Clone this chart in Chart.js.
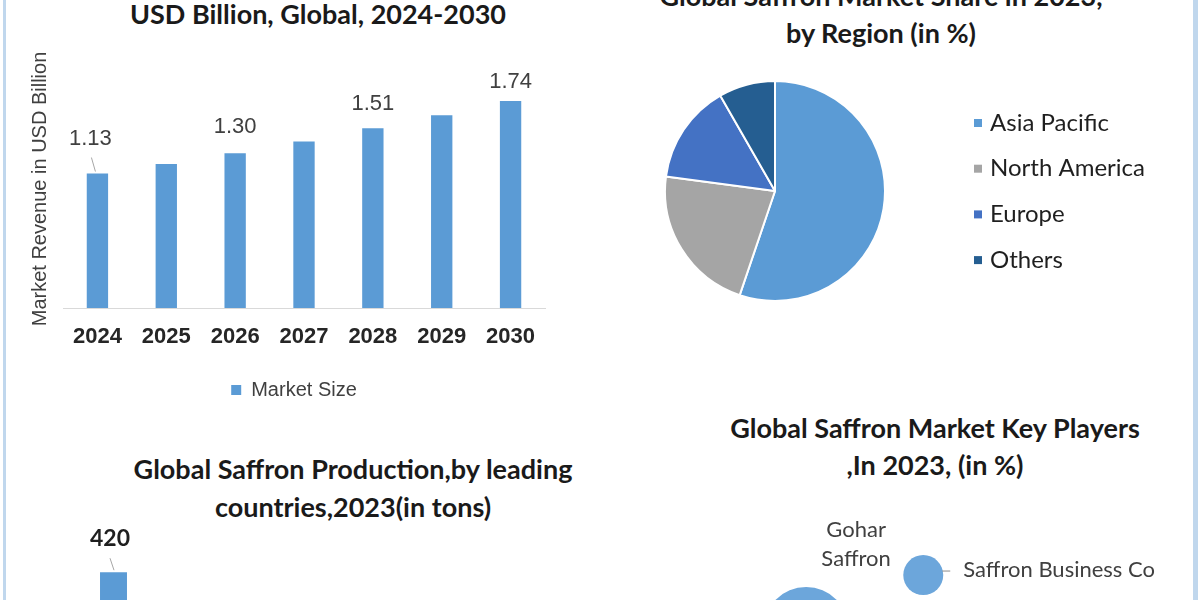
<!DOCTYPE html>
<html><head><meta charset="utf-8">
<script src="https://cdn.jsdelivr.net/npm/chart.js@4"></script>
<style>
html,body{margin:0;padding:0;width:1200px;height:600px;overflow:hidden;background:#fff;}
canvas{position:absolute;display:block;}
.title{position:absolute;transform:translateX(-50%);font-family:Lato,'Open Sans',sans-serif;font-weight:bold;color:#1a1a1a;text-align:center;white-space:nowrap;font-size:27px;line-height:37px;}
.edge{position:absolute;top:0;height:600px;background:#c0d7ed;}
</style></head><body>
<div class="edge" style="left:3px;width:3px"></div>
<div class="edge" style="left:1193px;width:5px"></div>
<div class="title" style="left:318px;top:-5px">USD Billion, Global, 2024-2030</div>
<div class="title" style="left:881px;top:-23px">Global Saffron Market Share in 2023,<br>by Region (in %)</div>
<div class="title" style="left:353px;top:450px;line-height:38px">Global Saffron Production,by leading<br>countries,2023(in tons)</div>
<div class="title" style="left:935px;top:409px">Global Saffron Market Key Players<br>,In 2023, (in %)</div>

<canvas id="c1" width="552" height="410" style="left:18px;top:0px"></canvas>
<canvas id="c2" width="530" height="230" style="left:660px;top:76px"></canvas>
<canvas id="c3" width="101" height="300" style="left:63px;top:520px"></canvas>
<canvas id="c4" width="550" height="220" style="left:640px;top:480px"></canvas>

<script>
// ---- data ----
const marketYears = ['2024', '2025', '2026', '2027', '2028', '2029', '2030'];
const marketSize = [1.13, 1.21, 1.30, 1.40, 1.51, 1.62, 1.74];
const labelledYears = ['2024', '2026', '2028', '2030'];

const regionNames = ['Asia Pacific', 'North America', 'Europe', 'Others'];
const regionShare = [55.2, 21.9, 14.6, 8.3];

const productionCountries = ['Iran'];
const productionTons = [420];

const playerNames = ['Gohar Saffron', 'Saffron Business Co'];
const playerX = [30.2, 51.5];
const playerY = [31.8, 56.8];
const playerBubble = [43, 20];

// ---- plugins ----
const valueLabels = {
  id: 'valueLabels',
  afterDatasetsDraw(chart, args, opts) {
    const ctx = chart.ctx;
    const meta = chart.getDatasetMeta(0);
    const ds = chart.data.datasets[0];
    ctx.save();
    ctx.font = opts.font;
    ctx.fillStyle = opts.color;
    ctx.textAlign = 'center';
    ctx.textBaseline = 'middle';
    meta.data.forEach((el, i) => {
      const lab = chart.data.labels[i];
      if (opts.show && !opts.show.includes(lab)) return;
      const o = (opts.place && opts.place[lab]) || {};
      const dx = o.dx || 0, dy = o.dy !== undefined ? o.dy : -22;
      ctx.fillText(opts.format(ds.data[i]), el.x + dx, el.y + dy);
      if (o.leader) {
        ctx.strokeStyle = '#a6a6a6';
        ctx.lineWidth = 1;
        ctx.beginPath();
        ctx.moveTo(el.x + o.leader[0], el.y + o.leader[1]);
        ctx.lineTo(el.x + o.leader[2], el.y + o.leader[3]);
        ctx.stroke();
      }
    });
    ctx.restore();
  }
};

const sideLegend = {
  id: 'sideLegend',
  afterDraw(chart, args, opts) {
    const ctx = chart.ctx;
    const colors = chart.data.datasets[0].backgroundColor;
    ctx.save();
    ctx.font = opts.font;
    ctx.textBaseline = 'middle';
    ctx.textAlign = 'left';
    chart.data.labels.forEach((lab, i) => {
      const y = opts.y0 + i * opts.step;
      ctx.fillStyle = colors[i];
      ctx.fillRect(opts.x, y - opts.box / 2, opts.box, opts.box);
      ctx.fillStyle = opts.color;
      ctx.fillText(lab, opts.x + opts.box + opts.gap, y);
    });
    ctx.restore();
  }
};

const bubbleLabels = {
  id: 'bubbleLabels',
  afterDatasetsDraw(chart, args, opts) {
    const ctx = chart.ctx;
    const meta = chart.getDatasetMeta(0);
    ctx.save();
    ctx.font = opts.font;
    ctx.fillStyle = opts.color;
    ctx.textBaseline = 'middle';
    meta.data.forEach((el, i) => {
      const p = opts.place[i];
      ctx.textAlign = p.align;
      p.lines.forEach((t, k) => ctx.fillText(t, el.x + p.dx, el.y + p.dy + k * p.lh));
      if (p.leader) {
        ctx.strokeStyle = '#8c8c8c';
        ctx.lineWidth = 1;
        ctx.beginPath();
        ctx.moveTo(el.x + p.leader[0], el.y + p.leader[1]);
        ctx.lineTo(el.x + p.leader[2], el.y + p.leader[3]);
        ctx.stroke();
      }
    });
    ctx.restore();
  }
};

// ---- chart 1: market size ----
new Chart(document.getElementById('c1'), {
  type: 'bar',
  data: {
    labels: marketYears,
    datasets: [{
      label: 'Market Size',
      data: marketSize,
      backgroundColor: '#5B9BD5',
      categoryPercentage: 1,
      barPercentage: 0.31
    }]
  },
  options: {
    responsive: false,
    animation: false,
    layout: { padding: { top: 70, right: 0, bottom: 0, left: 0 } },
    scales: {
      x: {
        grid: { display: false, drawTicks: false },
        border: { display: true, color: '#d9d9d9', width: 1 },
        ticks: { color: '#262626', font: { family: 'Liberation Sans', size: 22, weight: 'bold' }, padding: 16 },
        afterFit(s) { s.height = 62; }
      },
      y: {
        min: 0, max: 2,
        grid: { display: false, drawTicks: false },
        border: { display: false },
        ticks: { display: false },
        title: { display: true, text: 'Market Revenue in USD Billion', color: '#404040',
                 font: { family: 'Liberation Sans', size: 20 }, padding: { top: 10, bottom: 0 } },
        afterFit(s) { s.width = 45; }
      },
      yRight: {
        position: 'right',
        min: 0, max: 2,
        grid: { display: false, drawTicks: false },
        border: { display: false },
        ticks: { display: false },
        afterFit(s) { s.width = 25; }
      }
    },
    plugins: {
      legend: {
        position: 'bottom',
        labels: { boxWidth: 10, boxHeight: 10, color: '#404040', font: { family: 'Liberation Sans', size: 20 }, padding: 10 }
      },
      tooltip: { enabled: false },
      valueLabels: {
        show: labelledYears,
        font: '22px "Liberation Sans"',
        color: '#404040',
        format: v => v.toFixed(2),
        place: {
          '2024': { dx: -7, dy: -35, leader: [-6, -16, -2, -2] },
          '2026': { dx: 0, dy: -26 },
          '2028': { dx: 0, dy: -24 },
          '2030': { dx: 0, dy: -19 }
        }
      }
    }
  },
  plugins: [valueLabels]
});

// ---- chart 2: region share pie ----
new Chart(document.getElementById('c2'), {
  type: 'pie',
  data: {
    labels: regionNames,
    datasets: [{
      data: regionShare,
      backgroundColor: ['#5B9BD5', '#A5A5A5', '#4472C4', '#255E91'],
      borderColor: '#ffffff',
      borderWidth: 2,
      hoverOffset: 0
    }]
  },
  options: {
    responsive: false,
    animation: false,
    layout: { padding: { top: 4, bottom: 4, left: 4, right: 304 } },
    plugins: {
      legend: { display: false },
      tooltip: { enabled: false },
      sideLegend: { x: 314, y0: 47, step: 45.7, box: 8, gap: 8, font: '24px Lato', color: '#1f1f1f' }
    }
  },
  plugins: [sideLegend]
});

// ---- chart 3: production by country ----
new Chart(document.getElementById('c3'), {
  type: 'bar',
  data: {
    labels: productionCountries,
    datasets: [{
      label: 'Production (tons)',
      data: productionTons,
      backgroundColor: '#5B9BD5',
      categoryPercentage: 1,
      barPercentage: 0.267
    }]
  },
  options: {
    responsive: false,
    animation: false,
    layout: { padding: { top: 5, right: 0, bottom: 0, left: 0 } },
    scales: {
      x: { display: false },
      y: { display: false, min: 0, max: 500 }
    },
    plugins: {
      legend: { display: false },
      tooltip: { enabled: false },
      valueLabels: {
        font: 'bold 23px Lato',
        color: '#1f1f1f',
        format: v => String(v),
        place: { 'Iran': { dx: -3.5, dy: -34, leader: [-3.5, -14, 0.5, -2] } }
      }
    }
  },
  plugins: [valueLabels]
});

// ---- chart 4: key players bubbles ----
new Chart(document.getElementById('c4'), {
  type: 'bubble',
  data: {
    datasets: [{
      label: 'Key Players',
      data: playerNames.map((n, i) => ({ x: playerX[i], y: playerY[i], r: playerBubble[i] })),
      backgroundColor: '#6CA6DB',
      borderWidth: 0,
      clip: false
    }]
  },
  options: {
    responsive: false,
    animation: false,
    layout: { padding: 0, autoPadding: false },
    scales: {
      x: { display: false, min: 0, max: 100 },
      y: { display: false, min: 0, max: 100 }
    },
    plugins: {
      legend: { display: false },
      tooltip: { enabled: false },
      bubbleLabels: {
        font: '22px Lato',
        color: '#404040',
        place: [
          { align: 'center', dx: 50, dy: -100, lh: 29, lines: ['Gohar', 'Saffron'] },
          { align: 'left', dx: 40, dy: -5, lh: 0, lines: ['Saffron Business Co'], leader: [19, -4, 27, -4] }
        ]
      }
    }
  },
  plugins: [bubbleLabels]
});
</script>
</body></html>
